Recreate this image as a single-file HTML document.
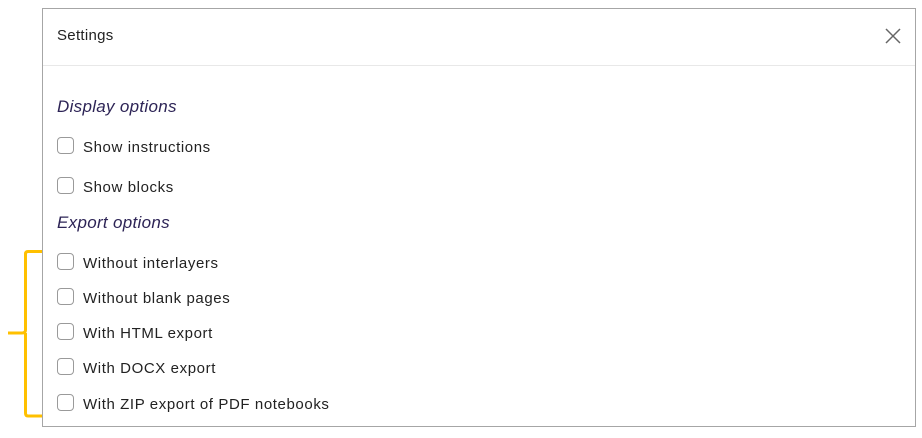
<!DOCTYPE html>
<html><head><style>
body{margin:0;width:922px;height:438px;background:#fff;position:relative;font-family:"Liberation Sans",sans-serif;overflow:hidden}
.dlg{position:absolute;left:42px;top:8px;width:872px;height:417px;border:1px solid #a6a6a6;background:#fff}
.t{position:absolute;color:#222;font-size:15px;letter-spacing:0.6px;white-space:nowrap}
.h{position:absolute;color:#2d2456;font-size:17px;font-style:italic;letter-spacing:0.3px;white-space:nowrap}
.cb{position:absolute;left:57px;width:15px;height:15px;border:1px solid #9a9a9a;border-radius:4px;background:#fff}
</style></head><body>
<div class="dlg"></div>
<div style="position:absolute;left:43px;top:65px;width:872px;height:1px;background:#e8e8e8"></div>
<div class="t" style="left:57px;top:27px;letter-spacing:0.3px">Settings</div>
<svg style="position:absolute;left:885px;top:28px" width="16" height="16"><path d="M1 1L15 15M15 1L1 15" stroke="#666" stroke-width="1.5"/></svg>
<div class="h" style="left:57px;top:97px">Display options</div>
<div class="cb" style="top:137px"></div><div class="t" style="left:83px;top:139px">Show instructions</div>
<div class="cb" style="top:177px"></div><div class="t" style="left:83px;top:179px">Show blocks</div>
<div class="h" style="left:57px;top:213px">Export options</div>
<div class="cb" style="top:253px"></div><div class="t" style="left:83px;top:255px">Without interlayers</div>
<div class="cb" style="top:288px"></div><div class="t" style="left:83px;top:290px">Without blank pages</div>
<div class="cb" style="top:323px"></div><div class="t" style="left:83px;top:325px">With HTML export</div>
<div class="cb" style="top:358px"></div><div class="t" style="left:83px;top:360px">With DOCX export</div>
<div class="cb" style="top:394px"></div><div class="t" style="left:83px;top:396px">With ZIP export of PDF notebooks</div>
<svg style="position:absolute;left:0;top:0" width="60" height="438">
<path d="M42 251.5H28Q25.5 251.5 25.5 254V330Q25.5 333 22 333H8M25.5 333V413Q25.5 416 28 416H42" fill="none" stroke="#FFC000" stroke-width="3"/>
</svg>
</body></html>
